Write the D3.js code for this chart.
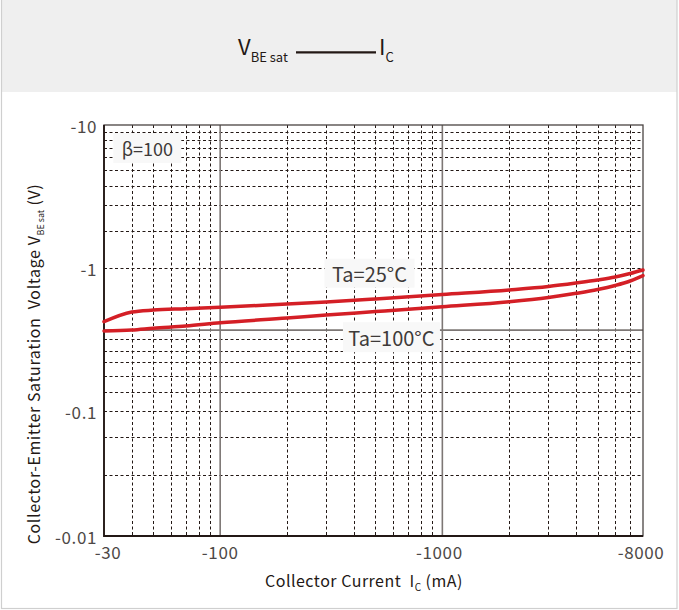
<!DOCTYPE html>
<html>
<head>
<meta charset="utf-8">
<script src="https://cdn.jsdelivr.net/npm/d3@7"></script>
<style>
    body { margin: 0; background: #fff; }
    svg text { font-family: "Noto Sans CJK JP", "Noto Sans", sans-serif; }
</style>
</head>
<body>
<div id="chart"></div>
<script>
"use strict"

// axis labels (negative polarity, log scales)
const xTicks = [-30, -100, -1000, -8000];
const yTicks = [-10, -1, -0.1, -0.01];

// grid lines
const xGrid = [-40, -50, -60, -70, -80, -90,
    -200, -300, -400, -500, -600, -700, -800, -900,
    -2000, -3000, -4000, -5000, -6000, -7000];
const xSolid = [-100, -1000];
const yGrid = [-8.9, -7.9, -6.9, -6, -4.85, -3.75, -2.75, -1.82, -1,
    -0.319, -0.263, -0.22, -0.176, -0.136, -0.1,
    -0.0617, -0.031];
const ySolid = [-0.368];

// collector current (mA)
const current = [-30, -40, -50, -70, -100, -200, -300, -500, -1000,
    -2000, -3000, -4000, -5000, -6000, -7000, -8000];
// VBE sat (V)
const vbe25 = [-0.421, -0.492, -0.508, -0.519, -0.531, -0.560, -0.578, -0.607, -0.653,
    -0.702, -0.742, -0.785, -0.824, -0.865, -0.915, -0.968];
const vbe100 = [-0.363, -0.368, -0.379, -0.393, -0.414, -0.447, -0.469, -0.496, -0.536,
    -0.581, -0.622, -0.665, -0.707, -0.755, -0.811, -0.884];

const width = 679, height = 610;
const plot = { left: 104, right: 643, top: 125, bottom: 536 };

let svg = d3.select("#chart").append("svg")
    .attr("width", width)
    .attr("height", height);

// header band + frame
svg.append("rect")
    .attr("x", 2).attr("y", 0)
    .attr("width", 675).attr("height", 92)
    .style("fill", "#efefef");
svg.append("rect")
    .attr("x", 1.5).attr("y", -1)
    .attr("width", 675.5).attr("height", 609.5)
    .style("fill", "none")
    .style("stroke", "#cfcfcf")
    .style("stroke-width", 1.2);

// title: VBE sat ——— IC
let title = svg.append("g").style("fill", "#231815");
title.append("text")
    .attr("x", 238).attr("y", 55)
    .style("font-size", "22px")
    .text("V")
    .append("tspan")
    .attr("dy", 6.5)
    .style("font-size", "13px")
    .text("BE sat");
title.append("line")
    .attr("x1", 296).attr("x2", 376)
    .attr("y1", 52.3).attr("y2", 52.3)
    .style("stroke", "#231815")
    .style("stroke-width", 2.2);
title.append("text")
    .attr("x", 379).attr("y", 55)
    .style("font-size", "22px")
    .text("I")
    .append("tspan")
    .attr("dy", 6.5)
    .style("font-size", "13px")
    .text("C");

let x = d3.scaleLog()
    .domain([xTicks[0], xTicks[xTicks.length - 1]])
    .range([plot.left, plot.right]);

let y = d3.scaleLog()
    .domain(yTicks)
    .range([plot.top, 268, 411, plot.bottom]);

let grid = svg.append("g");

grid.selectAll(".vgrid")
    .data(xGrid)
    .enter().append("line")
    .attr("class", "vgrid")
    .attr("x1", d => Math.round(x(d)) + 0.5).attr("x2", d => Math.round(x(d)) + 0.5)
    .attr("y1", plot.top).attr("y2", plot.bottom)
    .style("stroke", "#231815")
    .style("stroke-width", 1)
    .style("stroke-dasharray", "3,2.5");

grid.selectAll(".hgrid")
    .data(yGrid)
    .enter().append("line")
    .attr("class", "hgrid")
    .attr("x1", plot.left).attr("x2", plot.right)
    .attr("y1", d => Math.round(y(d)) + 0.5).attr("y2", d => Math.round(y(d)) + 0.5)
    .style("stroke", "#231815")
    .style("stroke-width", 1)
    .style("stroke-dasharray", "3,2.5");

grid.selectAll(".vsolid")
    .data(xSolid)
    .enter().append("line")
    .attr("class", "vsolid")
    .attr("x1", d => x(d)).attr("x2", d => x(d))
    .attr("y1", plot.top).attr("y2", plot.bottom)
    .style("stroke", "#7d7775")
    .style("stroke-width", 1.6);

grid.selectAll(".hsolid")
    .data(ySolid)
    .enter().append("line")
    .attr("class", "hsolid")
    .attr("x1", plot.left).attr("x2", plot.right)
    .attr("y1", d => y(d)).attr("y2", d => y(d))
    .style("stroke", "#7d7775")
    .style("stroke-width", 1.6);

// labels with a pale box behind them
function boxLabel(text, cx, cy, w, h, size) {
    svg.append("rect")
        .attr("x", cx - w / 2).attr("y", cy - h / 2)
        .attr("width", w).attr("height", h)
        .style("fill", "#f8f8f8");
    svg.append("text")
        .attr("x", cx).attr("y", cy)
        .attr("text-anchor", "middle")
        .attr("dominant-baseline", "central")
        .style("font-size", size + "px")
        .style("fill", "#3e3a39")
        .text(text);
}
boxLabel("β=100", x(-47), y(-6.9), 68, 30, 18);
boxLabel("Ta=25°C", x(-470), y(-0.92), 90, 29, 20);
boxLabel("Ta=100°C", x(-590), y(-0.328), 97, 30, 20);

// frame
svg.append("rect")
    .attr("x", plot.left).attr("y", plot.top)
    .attr("width", plot.right - plot.left)
    .attr("height", plot.bottom - plot.top)
    .style("fill", "none")
    .style("stroke", "#4a4442")
    .style("stroke-width", 1.3);
svg.append("path")
    .attr("d", `M${plot.left},${plot.top}V${plot.bottom}H${plot.right}`)
    .style("fill", "none")
    .style("stroke", "#231815")
    .style("stroke-width", 1.8);

// curves
let line = d3.line()
    .x(d => x(d[0]))
    .y(d => y(d[1]))
    .curve(d3.curveMonotoneX);

[vbe25, vbe100].forEach(series => {
    svg.append("path")
        .datum(current.map((c, i) => [c, series[i]]))
        .attr("d", line)
        .style("fill", "none")
        .style("stroke", "#d41f26")
        .style("stroke-width", 3.5)
        .style("stroke-linecap", "round");
});

// tick labels
svg.selectAll(".xlabel")
    .data(xTicks)
    .enter().append("text")
    .attr("class", "xlabel")
    .attr("x", (d, i) => x(d) + [4, 0, -3, -2][i])
    .attr("y", 559)
    .attr("text-anchor", "middle")
    .style("font-size", "17px")
    .style("letter-spacing", "0.6px")
    .style("fill", "#4d4846")
    .text(d => d);

svg.selectAll(".ylabel")
    .data(yTicks)
    .enter().append("text")
    .attr("class", "ylabel")
    .attr("x", 97)
    .attr("y", d => y(d))
    .attr("text-anchor", "end")
    .attr("dominant-baseline", "central")
    .style("font-size", "17px")
    .style("letter-spacing", "0.6px")
    .style("fill", "#4d4846")
    .text(d => d);

// axis titles
let xTitle = svg.append("text")
    .attr("x", 364).attr("y", 587)
    .attr("text-anchor", "middle")
    .style("font-size", "16px")
    .style("letter-spacing", "0.5px")
    .style("fill", "#231815");
xTitle.append("tspan").text("Collector Current  I").attr("xml:space", "preserve");
xTitle.append("tspan").attr("dy", 4).style("font-size", "10px").text("C");
xTitle.append("tspan").attr("dy", -4).text(" (mA)");

let yTitle = svg.append("text")
    .attr("transform", "translate(40,364) rotate(-90)")
    .attr("text-anchor", "middle")
    .style("font-size", "16px")
    .style("letter-spacing", "0.6px")
    .style("fill", "#231815");
yTitle.append("tspan").text("Collector-Emitter Saturation  Voltage V").attr("xml:space", "preserve");
yTitle.append("tspan").attr("dy", 4).style("font-size", "9px").style("letter-spacing", "0px").text("BE sat");
yTitle.append("tspan").attr("dy", -4).text(" (V)");
</script>
</body>
</html>
